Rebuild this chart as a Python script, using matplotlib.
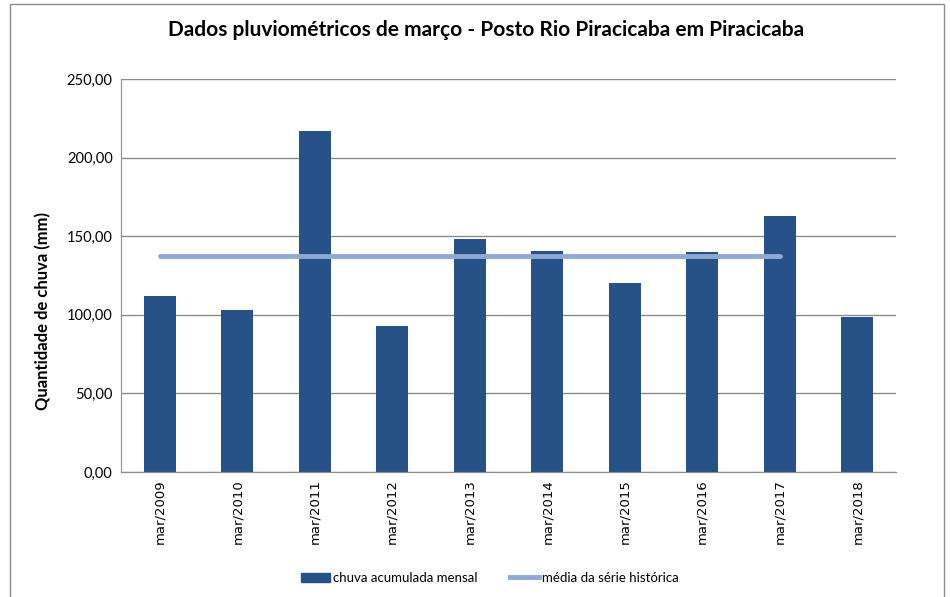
import matplotlib.pyplot as plt
import matplotlib.patches as mpatches
import numpy as np

# dados
meses = ["mar/2009", "mar/2010", "mar/2011", "mar/2012", "mar/2013",
         "mar/2014", "mar/2015", "mar/2016", "mar/2017", "mar/2018"]
chuva = [112.0, 103.1, 216.9, 92.9, 148.2, 140.6, 120.2, 139.8, 163.0, 98.6]
media = [137.4] * 9  # vai de 2009 ate 2017

bar_color = "#265287"
line_color = "#8EA9D4"

plt.rcParams['font.family'] = ['Lato', 'DejaVu Sans']

fig = plt.figure(figsize=(9.5, 5.97), dpi=100)
ax = fig.add_axes([121 / 950, 1 - 472 / 597, (896 - 121) / 950, (472 - 79) / 597])

x = np.arange(len(meses))
ax.bar(x, chuva, width=0.41, color=bar_color, zorder=2, label="chuva acumulada mensal")
ax.plot(x[:len(media)], media, color=line_color, linewidth=3.5, solid_capstyle="round",
        zorder=3, label="média da série histórica")

ax.set_xlim(-0.5, len(meses) - 0.5)
ax.set_ylim(0, 250)
ax.set_yticks(np.arange(0, 251, 50))
ax.set_yticklabels([f"{v:.2f}".replace(".", ",") for v in np.arange(0, 251, 50)], fontsize=10.5)
ax.set_xticks(x)
ax.set_xticklabels(meses, rotation=90, fontsize=9.5, family="DejaVu Sans")
ax.tick_params(axis="x", length=0, pad=5)
ax.tick_params(axis="y", length=0, pad=6)

ax.grid(axis="y", color="#8c8c8c", linewidth=1, zorder=0)
for s in ["top", "right"]:
    ax.spines[s].set_visible(False)
for s in ["left", "bottom"]:
    ax.spines[s].set_color("#8c8c8c")

ax.set_ylabel("Quantidade de chuva (mm)", fontsize=12, fontweight="bold")
ax.yaxis.set_label_coords(-0.09, 0.41)

fig.text(486 / 950, 1 - 30 / 597, "Dados pluviométricos de março - Posto Rio Piracicaba em Piracicaba",
         ha="center", va="center", fontsize=15, fontweight="bold")

handles = [mpatches.Patch(color=bar_color), plt.Line2D([], [], color=line_color, linewidth=3.5)]
fig.legend(handles, ["chuva acumulada mensal", "média da série histórica"],
           loc="center", bbox_to_anchor=(490 / 950, 1 - 578 / 597), ncol=2, frameon=False,
           fontsize=9.5, handlelength=2.2, handletextpad=0.2, columnspacing=2.5)

# moldura externa
fig.add_artist(mpatches.Rectangle((10 / 950, -0.05), 934 / 950, 1 - 4 / 597 + 0.05,
                                  transform=fig.transFigure, fill=False,
                                  edgecolor="#8c8c8c", linewidth=1))

fig.savefig("out.png", dpi=100)
